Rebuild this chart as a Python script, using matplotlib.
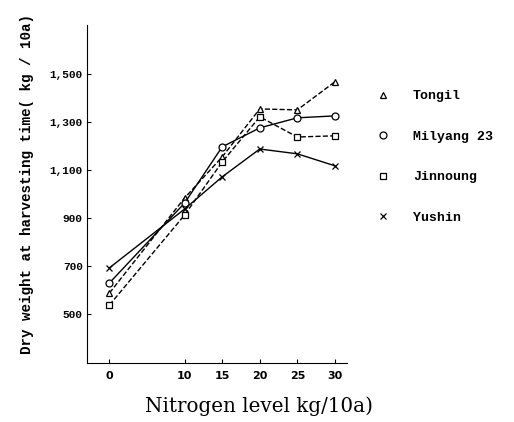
import matplotlib.pyplot as plt
from matplotlib.lines import Line2D

## Data
nitrogen = [0, 10, 15, 20, 25, 30]
tongil = [587, 983, 1154, 1354, 1350, 1467]
milyang = [629, 962, 1196, 1275, 1317, 1325]
jinnoung = [537, 912, 1133, 1321, 1237, 1242]
yushin = [692, 937, 1071, 1187, 1167, 1117]

series = [
    ('Tongil', tongil, '^', '--'),
    ('Milyang 23', milyang, 'o', '-'),
    ('Jinnoung', jinnoung, 's', '--'),
    ('Yushin', yushin, 'x', '-'),
]
y_ticks = [500, 700, 900, 1100, 1300, 1500]
y_ticklabels = ['500', '700', '900', '1,100', '1,300', '1,500']

mono = 'Liberation Mono'

fig = plt.figure(figsize=(5.14, 4.22), dpi=100)
ax = fig.add_axes([0.169, 0.140, 0.506, 0.801])

for name, vals, mk, ls in series:
    ax.plot(nitrogen, vals, color='black', linestyle=ls, linewidth=1.0,
            marker=mk, markersize=5, markerfacecolor='white',
            markeredgecolor='black', markeredgewidth=0.9, clip_on=False)

ax.set_xlim(-3, 31.6)
ax.set_ylim(296, 1704)
ax.set_xticks(nitrogen)
ax.set_xticklabels([str(n) for n in nitrogen], fontsize=8, fontweight='bold')
ax.set_yticks(y_ticks)
ax.set_yticklabels(y_ticklabels, fontsize=8, fontweight='bold', family=mono)
ax.tick_params(axis='y', direction='in', length=3, width=0.8, pad=3)
ax.tick_params(axis='x', direction='in', length=3, width=0.8, pad=6)
ax.spines['top'].set_visible(False)
ax.spines['right'].set_visible(False)

ax.set_ylabel('Dry weight at harvesting time( kg / 10a)', fontsize=10.3,
              fontweight='bold', family=mono)
ax.yaxis.set_label_coords(-0.205, 0.53)
ax.set_xlabel('Nitrogen level kg/10a)', fontsize=14.3, family='DejaVu Serif')
ax.xaxis.set_label_coords(0.66, -0.10)

## Legend (markers only)
handles = [Line2D([], [], linestyle='none', marker=mk, markersize=5,
                  markerfacecolor='white', markeredgecolor='black',
                  markeredgewidth=0.9, color='black')
           for name, vals, mk, ls in series]
fig.legend(handles, [s[0] for s in series], loc='upper left',
           bbox_to_anchor=(0.71, 0.815), frameon=False,
           prop={'family': mono, 'weight': 'bold', 'size': 9.5},
           labelspacing=2.15, handletextpad=1.75, handlelength=1.0)

fig.savefig('out.png', dpi=100)
